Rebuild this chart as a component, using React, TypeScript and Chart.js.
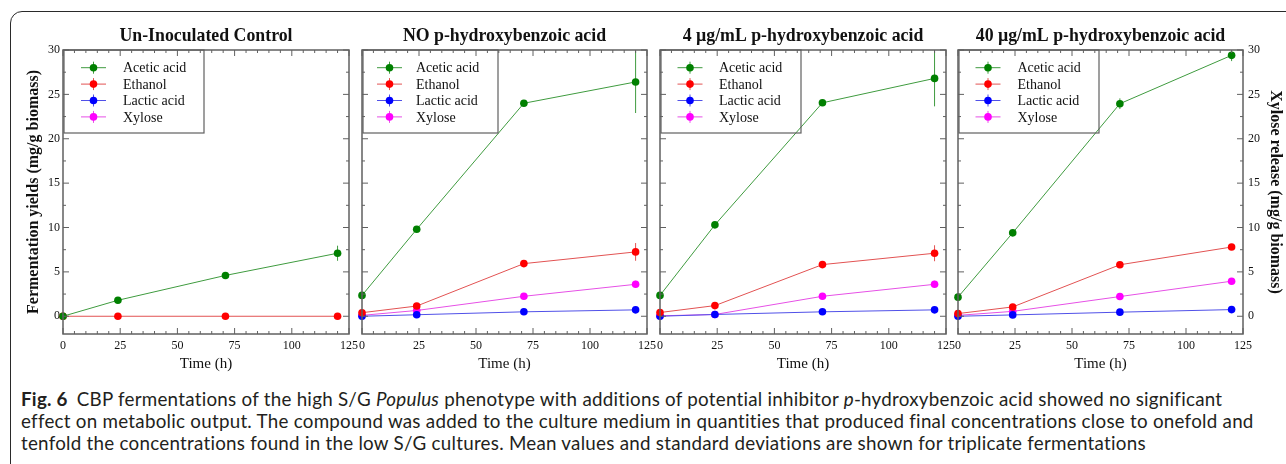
import { useEffect, useRef } from 'react';
import { Chart, registerables } from 'chart.js';

Chart.register(...registerables);

// Sampling times (h)
const TIME_H = [0, 24, 71, 120];

const SERIES = ['Acetic acid', 'Ethanol', 'Lactic acid', 'Xylose'];
const MARKER_COLORS = ['#008000', '#ff0000', '#0000ff', '#ff00ff'];
const LINE_COLORS = ['#3f9b3f', '#e25252', '#5050e8', '#e650e6'];

const X_TICKS = [0, 25, 50, 75, 100, 125];
const Y_TICKS = [0, 5, 10, 15, 20, 25, 30];

const PANEL_TITLES = [
  'Un-Inoculated Control',
  'NO p-hydroxybenzoic acid',
  '4 µg/mL p-hydroxybenzoic acid',
  '40 µg/mL p-hydroxybenzoic acid',
];

// Un-inoculated control (mg/g biomass), mean and SD
const CONTROL_ACETIC = [0, 1.8, 4.6, 7.1];
const CONTROL_ACETIC_SD = [0.1, 0.15, 0.2, 0.85];
const CONTROL_ETHANOL = [0, 0, 0, 0];
const CONTROL_ETHANOL_SD = [0, 0, 0, 0];

// No p-hydroxybenzoic acid
const NONE_ACETIC = [2.35, 9.8, 24.0, 26.4];
const NONE_ACETIC_SD = [0.1, 0.2, 0.35, 3.5];
const NONE_ETHANOL = [0.4, 1.15, 5.93, 7.25];
const NONE_ETHANOL_SD = [0.1, 0.15, 0.15, 1.0];
const NONE_LACTIC = [0.0, 0.17, 0.5, 0.72];
const NONE_LACTIC_SD = [0.02, 0.05, 0.05, 0.05];
const NONE_XYLOSE = [0.1, 0.65, 2.25, 3.6];
const NONE_XYLOSE_SD = [0.05, 0.1, 0.15, 0.4];

// 4 µg/mL p-hydroxybenzoic acid
const LOW_ACETIC = [2.35, 10.3, 24.05, 26.8];
const LOW_ACETIC_SD = [0.1, 0.2, 0.2, 3.15];
const LOW_ETHANOL = [0.42, 1.2, 5.82, 7.1];
const LOW_ETHANOL_SD = [0.1, 0.1, 0.15, 0.9];
const LOW_LACTIC = [0.0, 0.2, 0.5, 0.72];
const LOW_LACTIC_SD = [0.02, 0.05, 0.05, 0.05];
const LOW_XYLOSE = [0.05, 0.2, 2.25, 3.6];
const LOW_XYLOSE_SD = [0.05, 0.05, 0.15, 0.4];

// 40 µg/mL p-hydroxybenzoic acid
const HIGH_ACETIC = [2.15, 9.4, 23.95, 29.4];
const HIGH_ACETIC_SD = [0.1, 0.2, 0.6, 0.65];
const HIGH_ETHANOL = [0.3, 1.05, 5.8, 7.8];
const HIGH_ETHANOL_SD = [0.1, 0.3, 0.15, 0.1];
const HIGH_LACTIC = [0.0, 0.15, 0.46, 0.75];
const HIGH_LACTIC_SD = [0.02, 0.05, 0.05, 0.05];
const HIGH_XYLOSE = [0.1, 0.55, 2.22, 3.95];
const HIGH_XYLOSE_SD = [0.05, 0.1, 0.1, 0.15];

const PANEL_SERIES: (number[][] | null)[][] = [
  [[CONTROL_ACETIC, CONTROL_ACETIC_SD], [CONTROL_ETHANOL, CONTROL_ETHANOL_SD], null, null],
  [[NONE_ACETIC, NONE_ACETIC_SD], [NONE_ETHANOL, NONE_ETHANOL_SD], [NONE_LACTIC, NONE_LACTIC_SD], [NONE_XYLOSE, NONE_XYLOSE_SD]],
  [[LOW_ACETIC, LOW_ACETIC_SD], [LOW_ETHANOL, LOW_ETHANOL_SD], [LOW_LACTIC, LOW_LACTIC_SD], [LOW_XYLOSE, LOW_XYLOSE_SD]],
  [[HIGH_ACETIC, HIGH_ACETIC_SD], [HIGH_ETHANOL, HIGH_ETHANOL_SD], [HIGH_LACTIC, HIGH_LACTIC_SD], [HIGH_XYLOSE, HIGH_XYLOSE_SD]],
];

const SERIF = '"Liberation Serif", "Times New Roman", serif';
const TEXT = '#111';
const FRAME = '#606060';
const PLOT_TOP = 50;
const PLOT_H = 284;
const XAXIS_H = 40;

// Layout of the four panels on the page
const PANELS = [
  { left: 0, plotW: 286, padL: 0, padR: 12, leftAxis: 63, rightAxis: 0, legend: { w: 140, mx: 29.5, tx: 59 } },
  { left: 350, plotW: 285, padL: 12, padR: 12, leftAxis: 0, rightAxis: 0, legend: { w: 135, mx: 26.5, tx: 53 } },
  { left: 648, plotW: 286, padL: 12, padR: 12, leftAxis: 0, rightAxis: 0, legend: { w: 140, mx: 29, tx: 58 } },
  { left: 946, plotW: 285, padL: 12, padR: 0, leftAxis: 0, rightAxis: 43, legend: { w: 140, mx: 29, tx: 58.5 } },
];

const decorPlugin = {
  id: 'panelDecor',
  beforeDatasetsDraw(chart: any) {
    const { ctx, chartArea } = chart;
    const yScale = chart.scales.y;
    ctx.save();
    ctx.beginPath();
    ctx.rect(chartArea.left, chartArea.top, chartArea.right - chartArea.left, chartArea.bottom - chartArea.top);
    ctx.clip();
    chart.data.datasets.forEach((ds: any, di: number) => {
      const meta = chart.getDatasetMeta(di);
      ctx.strokeStyle = ds.borderColor;
      ctx.lineWidth = 1;
      meta.data.forEach((pt: any, i: number) => {
        const v = ds.data[i].y;
        const sd = ds.sd[i];
        if (!sd) return;
        const y1 = yScale.getPixelForValue(v + sd);
        const y2 = yScale.getPixelForValue(v - sd);
        ctx.beginPath();
        ctx.moveTo(pt.x, y1);
        ctx.lineTo(pt.x, y2);
        ctx.stroke();
      });
    });
    ctx.restore();
  },
  afterDraw(chart: any, _args: any, opts: any) {
    const { ctx, chartArea } = chart;
    const { left, right, top, bottom } = chartArea;
    const xs = chart.scales.x;
    const ys = chart.scales.y;
    ctx.save();

    // plot frame
    ctx.strokeStyle = FRAME;
    ctx.lineWidth = 1.5;
    ctx.strokeRect(left, top, right - left, bottom - top);

    // inward tick marks on all four sides
    ctx.lineWidth = 1;
    for (let v = 0; v <= 125; v += 5) {
      const px = xs.getPixelForValue(v);
      const len = v % 25 === 0 ? 6 : 3;
      ctx.beginPath();
      ctx.moveTo(px, bottom);
      ctx.lineTo(px, bottom - len);
      ctx.moveTo(px, top);
      ctx.lineTo(px, top + len);
      ctx.stroke();
    }
    for (let v = 0; v <= 30; v += 2.5) {
      const py = ys.getPixelForValue(v);
      const len = v % 5 === 0 ? 6 : 3;
      ctx.beginPath();
      ctx.moveTo(left, py);
      ctx.lineTo(left + len, py);
      ctx.moveTo(right, py);
      ctx.lineTo(right - len, py);
      ctx.stroke();
    }

    // panel title
    ctx.fillStyle = TEXT;
    ctx.font = `bold 17.8px ${SERIF}`;
    ctx.textAlign = 'center';
    ctx.textBaseline = 'alphabetic';
    ctx.fillText(opts.title, (left + right) / 2, 41);

    // legend box
    const lg = opts.legend;
    const bx = left + 1;
    const by = top;
    ctx.strokeStyle = FRAME;
    ctx.lineWidth = 1.2;
    ctx.strokeRect(bx, by, lg.w, 83);
    ctx.font = `14px ${SERIF}`;
    ctx.textAlign = 'left';
    ctx.textBaseline = 'middle';
    SERIES.forEach((name, i) => {
      const cy = by + 17.7 + i * 16.4;
      const mx = bx + lg.mx;
      ctx.strokeStyle = LINE_COLORS[i];
      ctx.lineWidth = 1;
      ctx.beginPath();
      ctx.moveTo(mx - 12.5, cy);
      ctx.lineTo(mx + 12.5, cy);
      ctx.moveTo(mx, cy - 6);
      ctx.lineTo(mx, cy + 6);
      ctx.stroke();
      ctx.fillStyle = MARKER_COLORS[i];
      ctx.beginPath();
      ctx.arc(mx, cy, 3.8, 0, Math.PI * 2);
      ctx.fill();
      ctx.fillStyle = TEXT;
      ctx.fillText(name, bx + lg.tx, cy + 1);
    });
    ctx.restore();
  },
};

function Panel({ index }: { index: number }) {
  const ref = useRef<HTMLCanvasElement>(null);
  const p = PANELS[index];
  const width = p.padL + p.leftAxis + p.plotW + p.rightAxis + p.padR;
  const height = PLOT_TOP + PLOT_H + XAXIS_H;

  useEffect(() => {
    const datasets = PANEL_SERIES[index]
      .map((s, i) =>
        s
          ? {
              label: SERIES[i],
              data: TIME_H.map((t, k) => ({ x: t, y: s[0][k] })),
              sd: s[1],
              borderColor: LINE_COLORS[i],
              backgroundColor: MARKER_COLORS[i],
              pointBackgroundColor: MARKER_COLORS[i],
              pointBorderColor: MARKER_COLORS[i],
              borderWidth: 1,
              pointRadius: 3.8,
              pointBorderWidth: 0,
              tension: 0,
              clip: false,
              yAxisID: 'y',
            }
          : null
      )
      .filter(Boolean);

    const fixVertical = (w: number) => (s: any) => {
      s.width = w;
      s.paddingTop = 0;
      s.paddingBottom = 0;
    };

    const chart = new Chart(ref.current!, {
      type: 'line',
      data: { datasets: datasets as any },
      plugins: [decorPlugin],
      options: {
        animation: false,
        responsive: false,
        devicePixelRatio: 1,
        events: [],
        layout: { padding: { top: PLOT_TOP, left: p.padL, right: p.padR, bottom: 0 } },
        plugins: {
          legend: { display: false },
          tooltip: { enabled: false },
          title: { display: false },
          panelDecor: { title: PANEL_TITLES[index], legend: p.legend },
        } as any,
        scales: {
          x: {
            type: 'linear',
            position: 'bottom',
            min: 0,
            max: 125,
            grid: { display: false, drawTicks: false },
            border: { display: false },
            ticks: { padding: 5, maxRotation: 0, color: TEXT, font: { family: SERIF, size: 12 } },
            afterBuildTicks: (s: any) => {
              s.ticks = X_TICKS.map((v) => ({ value: v }));
            },
            afterFit: (s: any) => {
              s.height = XAXIS_H;
              s.paddingLeft = 0;
              s.paddingRight = 0;
            },
            title: {
              display: true,
              text: 'Time (h)',
              color: TEXT,
              font: { family: SERIF, size: 15 },
              padding: { top: 0, bottom: 1 },
            },
          },
          y: {
            type: 'linear',
            position: 'left',
            display: p.leftAxis > 0,
            min: -2,
            max: 30,
            grid: { display: false, drawTicks: false },
            border: { display: false },
            ticks: { padding: 3, color: TEXT, font: { family: SERIF, size: 12 } },
            afterBuildTicks: (s: any) => {
              s.ticks = Y_TICKS.map((v) => ({ value: v }));
            },
            afterFit: fixVertical(p.leftAxis),
            title: {
              display: true,
              text: 'Fermentation yields (mg/g biomass)',
              color: TEXT,
              font: { family: SERIF, size: 16, weight: 'bold' },
              padding: { top: 24, bottom: 0 },
            },
          },
          y2: {
            type: 'linear',
            position: 'right',
            display: p.rightAxis > 0,
            min: -2,
            max: 30,
            grid: { display: false, drawTicks: false },
            border: { display: false },
            ticks: { padding: 5, color: TEXT, font: { family: SERIF, size: 12 } },
            afterBuildTicks: (s: any) => {
              s.ticks = Y_TICKS.map((v) => ({ value: v }));
            },
            afterFit: fixVertical(p.rightAxis),
            title: {
              display: true,
              text: 'Xylose release (mg/g biomass)',
              color: TEXT,
              font: { family: SERIF, size: 16, weight: 'bold' },
              padding: { top: 1.5, bottom: 0 },
            },
          },
        },
      } as any,
    });
    return () => chart.destroy();
  }, [index]);

  return (
    <canvas
      ref={ref}
      width={width}
      height={height}
      style={{ position: 'absolute', left: p.left, top: 0, width, height }}
    />
  );
}

export default function App() {
  return (
    <div
      style={{
        position: 'fixed',
        left: 0,
        top: 0,
        width: 1286,
        height: 464,
        overflow: 'hidden',
        background: '#fff',
      }}
    >
      <div
        style={{
          position: 'absolute',
          left: 10,
          top: 11,
          width: 1400,
          height: 600,
          border: '1px solid #2a2a2a',
          borderTopLeftRadius: 12,
        }}
      />
      {PANELS.map((_, i) => (
        <Panel key={i} index={i} />
      ))}
      <div
        style={{
          position: 'absolute',
          left: 21,
          top: 388,
          fontFamily: 'Lato, "Open Sans", sans-serif',
          fontSize: 18.8,
          letterSpacing: '0.25px',
          lineHeight: '22px',
          color: '#231f20',
          whiteSpace: 'nowrap',
        }}
      >
        <span style={{ fontWeight: 'bold', marginRight: 9 }}>Fig. 6</span>
        CBP fermentations of the high S/G <i>Populus</i> phenotype with additions of potential inhibitor{' '}
        <i>p</i>-hydroxybenzoic acid showed no significant
        <br />
        effect on metabolic output. The compound was added to the culture medium in quantities that produced final
        concentrations close to onefold and
        <br />
        tenfold the concentrations found in the low S/G cultures. Mean values and standard deviations are shown for
        triplicate fermentations
      </div>
    </div>
  );
}
